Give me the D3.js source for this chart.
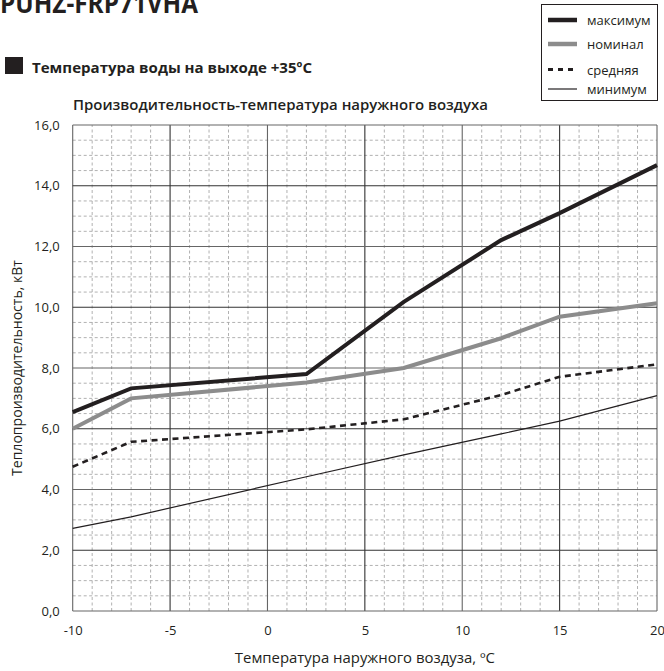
<!DOCTYPE html>
<html><head><meta charset="utf-8">
<script src="https://cdn.jsdelivr.net/npm/d3@7"></script>
<style>body{margin:0;background:#fff}svg{display:block}text{font-family:"Open Sans",sans-serif;fill:#231f20}</style>
</head><body><svg id="c" width="664" height="671"></svg>
<script>
const xTicks = [-10, -5, 0, 5, 10, 15, 20];
const xTickLabels = ["-10", "-5", "0", "5", "10", "15", "20"];
const yTicks = [0, 2, 4, 6, 8, 10, 12, 14, 16];
const yTickLabels = ["0,0","2,0","4,0","6,0","8,0","10,0","12,0","14,0","16,0"];
const seriesNames = ["максимум", "номинал", "средняя", "минимум"];
const maxTemps = [-10, -7, 2, 7, 12, 15, 20];
const maxValues = [6.55, 7.33, 7.8, 10.18, 12.21, 13.1, 14.68];
const nomTemps = [-10, -7, 2, 7, 12, 15, 20];
const nomValues = [6.0, 7.0, 7.52, 8.0, 8.98, 9.69, 10.13];
const avgTemps = [-10, -7, 2, 7, 12, 15, 20];
const avgValues = [4.75, 5.57, 5.98, 6.31, 7.11, 7.71, 8.12];
const minTemps = [-10, -7, 2, 7, 12, 15, 20];
const minValues = [2.72, 3.10, 4.42, 5.14, 5.83, 6.25, 7.09];

const svg = d3.select("#c");
const x = d3.scaleLinear().domain([-10, 20]).range([72.7, 657]);
const y = d3.scaleLinear().domain([0, 16]).range([611, 125]);

// minor grid
const g = svg.append("g");
g.selectAll("line.mx").data(d3.range(-10, 21, 1).filter(v => v % 5 !== 0)).join("line")
  .attr("x1", d => x(d)).attr("x2", d => x(d)).attr("y1", y(0)).attr("y2", y(16))
  .attr("stroke", "#a8a8a8").attr("stroke-width", 0.9).attr("stroke-dasharray", "3,2.5");
g.selectAll("line.my").data(d3.range(0, 16.01, 0.5).filter(v => v % 2 !== 0)).join("line")
  .attr("y1", d => y(d)).attr("y2", d => y(d)).attr("x1", x(-10)).attr("x2", x(20))
  .attr("stroke", "#a8a8a8").attr("stroke-width", 0.9).attr("stroke-dasharray", "3,2.5");
// major grid
g.selectAll("line.Mx").data(xTicks).join("line")
  .attr("x1", d => x(d)).attr("x2", d => x(d)).attr("y1", y(0)).attr("y2", y(16))
  .attr("stroke", (d, i) => i % 2 ? "#333" : "#666").attr("stroke-width", 1.1);
g.selectAll("line.My").data(yTicks).join("line")
  .attr("y1", d => y(d)).attr("y2", d => y(d)).attr("x1", x(-10)).attr("x2", x(20))
  .attr("stroke", (d, i) => i % 2 ? "#333" : "#666").attr("stroke-width", 1.1);

// axes labels via d3 axes
const xAxis = svg.append("g").attr("transform", `translate(0,${y(0)})`)
  .call(d3.axisBottom(x).tickValues(xTicks).tickSize(0).tickPadding(0).tickFormat((d, i) => xTickLabels[i]));
xAxis.select(".domain").remove();
xAxis.selectAll("text").attr("y", 24).attr("dy", 0).style("font-size", "13px").attr("fill", "#231f20");
const yAxis = svg.append("g").attr("transform", `translate(${x(-10)},0)`)
  .call(d3.axisLeft(y).tickValues(yTicks).tickSize(0).tickPadding(13).tickFormat((d, i) => yTickLabels[i]));
yAxis.select(".domain").remove();
yAxis.selectAll("text").style("font-size", "13px").attr("fill", "#231f20");

// series
const line = d3.line().x(d => x(d[0])).y(d => y(d[1]));
const series = [
  {t: maxTemps, v: maxValues, color: "#231f20", w: 4, dash: null},
  {t: nomTemps, v: nomValues, color: "#8c8c8c", w: 4, dash: null},
  {t: avgTemps, v: avgValues, color: "#231f20", w: 2.6, dash: "6,4.5"},
  {t: minTemps, v: minValues, color: "#231f20", w: 1.2, dash: null}
];
series.forEach(s => {
  svg.append("path").datum(s.t.map((t, i) => [t, s.v[i]])).attr("d", line)
    .attr("fill", "none").attr("stroke", s.color).attr("stroke-width", s.w)
    .attr("stroke-linejoin", "miter").attr("stroke-dasharray", s.dash);
});

// titles
svg.append("text").attr("x", 0).attr("y", 13).style("font-size", "26px").style("font-weight", 700)
  .attr("textLength", 198).attr("lengthAdjust", "spacingAndGlyphs").text("PUHZ-FRP71VHA");
svg.append("rect").attr("x", 5).attr("y", 57).attr("width", 18).attr("height", 17).attr("fill", "#231f20");
svg.append("text").attr("x", 32).attr("y", 73).style("font-size", "15px").style("font-weight", 700)
  .attr("textLength", 280).attr("lengthAdjust", "spacingAndGlyphs").text("Температура воды на выходе +35ºC");
svg.append("text").attr("x", 73).attr("y", 110).style("font-size", "15px").style("font-weight", 600)
  .attr("textLength", 415).attr("lengthAdjust", "spacingAndGlyphs").text("Производительность-температура наружного воздуха");
svg.append("text").attr("x", (x(-10) + x(20)) / 2).attr("y", 663).attr("text-anchor", "middle")
  .style("font-size", "14px").attr("textLength", 260).attr("lengthAdjust", "spacingAndGlyphs")
  .text("Температура наружного воздуза, ºC");
svg.append("text").attr("transform", `translate(22,${(y(0) + y(16)) / 2}) rotate(-90)`).attr("text-anchor", "middle")
  .style("font-size", "14px").attr("textLength", 216).attr("lengthAdjust", "spacingAndGlyphs")
  .text("Теплопроизводительность, кВт");

// legend
const lg = svg.append("g");
lg.append("rect").attr("x", 541.5).attr("y", 4.5).attr("width", 116).attr("height", 96)
  .attr("fill", "#fff").attr("stroke", "#231f20").attr("stroke-width", 1);
const rowY = [20, 44, 69.5, 89];
seriesNames.forEach((n, i) => {
  const s = series[i];
  lg.append("line").attr("x1", 548).attr("x2", 577).attr("y1", rowY[i]).attr("y2", rowY[i])
    .attr("stroke", s.color).attr("stroke-width", i === 3 ? 1.2 : (i === 2 ? 3 : 4.5))
    .attr("stroke-dasharray", i === 2 ? "5,5" : null);
  lg.append("text").attr("x", 587).attr("y", rowY[i] + 5).style("font-size", "13px").text(n);
});
</script></body></html>
